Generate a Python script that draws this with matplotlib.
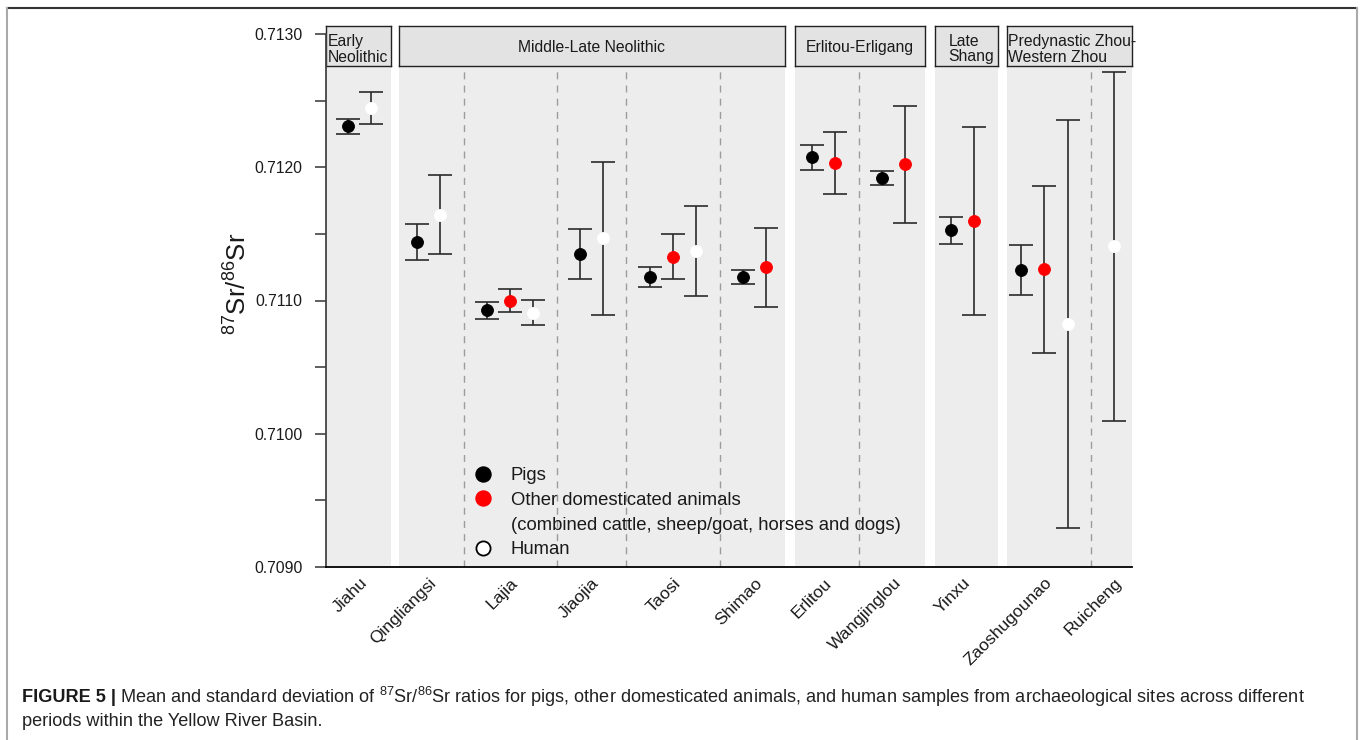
import matplotlib
matplotlib.use('Agg')
import matplotlib.pyplot as plt
from matplotlib.lines import Line2D
import numpy as np

plt.rcParams['font.family'] = ['Liberation Sans', 'DejaVu Sans']
plt.rcParams['mathtext.fontset'] = 'custom'
plt.rcParams['mathtext.rm'] = 'Liberation Sans'
plt.rcParams['mathtext.it'] = 'Liberation Sans:italic'
plt.rcParams['mathtext.bf'] = 'Liberation Sans:bold'

# ---------------- data ----------------
periods = ['Early\nNeolithic', 'Middle-Late Neolithic', 'Erlitou-Erligang',
           'Late\nShang', 'Predynastic Zhou-\nWestern Zhou']
sites = ['Jiahu', 'Qingliangsi', 'Lajia', 'Jiaojia', 'Taosi', 'Shimao',
         'Erlitou', 'Wangjinglou', 'Yinxu', 'Zaoshugounao', 'Ruicheng']
site_period = [0, 1, 1, 1, 1, 1, 2, 2, 3, 4, 4]

pig_mean = [0.712307, 0.711439, 0.710926, 0.711349, 0.711175, 0.711178,
            0.712074, 0.711921, 0.711526, 0.711228, None]
pig_sd = [0.000055, 0.000133, 0.000065, 0.000190, 0.000076, 0.000054,
          0.000095, 0.000054, 0.000104, 0.000189, None]
other_mean = [None, None, 0.710999, None, 0.711328, 0.711249,
              0.712032, 0.712021, 0.711597, 0.711233, None]
other_sd = [None, None, 0.000088, None, 0.000169, 0.000298,
            0.000233, 0.000442, 0.000706, 0.000627, None]
human_mean = [0.712446, 0.711645, 0.710908, 0.711466, 0.711370, None,
              None, None, None, 0.710823, 0.711407]
human_sd = [0.000119, 0.000296, 0.000094, 0.000572, 0.000339, None,
            None, None, None, 0.001528, 0.001309]

series_names = ['Pigs', 'Other domesticated animals', 'Human']
series_means = [pig_mean, other_mean, human_mean]
series_sds = [pig_sd, other_sd, human_sd]
series_face = ['black', '#ff0000', 'white']
series_edge = ['black', '#ff0000', 'white']

y_ticks = [0.7090, 0.7100, 0.7110, 0.7120, 0.7130]

# ---------------- layout ----------------
W, H = 1363, 740
fig = plt.figure(figsize=(W / 100, H / 100), dpi=100)
fig.patch.set_facecolor('white')


def axes_px(l, t, r, b, **kw):
    return fig.add_axes([l / W, 1 - b / H, (r - l) / W, (b - t) / H], **kw)


panel_px = [(326, 391), (399, 785), (795, 925), (935, 998), (1007, 1132)]
first_px = [348, 417, 812, 951, 1021]
unit_px = 23.27
top_px, bot_px, head_top = 67, 567, 26
px_per_unit_y = 133250.0
y0 = 0.7090
panel_ytop = y0 + (bot_px - top_px) / px_per_unit_y

for p, pname in enumerate(periods):
    L, R = panel_px[p]
    x_left = 1 - (first_px[p] - L) / unit_px
    x_right = x_left + (R - L) / unit_px
    ax = axes_px(L, top_px, R, bot_px)
    ax.set_facecolor('#ededed')
    for s in ax.spines.values():
        s.set_visible(False)
    ax.set_xlim(x_left, x_right)
    ax.set_ylim(y0, panel_ytop)
    ax.set_yticks([])

    idx = [i for i, sp in enumerate(site_period) if sp == p]
    pos = 1
    centers, bounds = [], []
    prev_last = None
    for i in idx:
        xs = []
        for k in range(3):
            m = series_means[k][i]
            if m is None:
                continue
            xs.append(pos)
            ax.errorbar([pos], [m], yerr=[series_sds[k][i]], fmt='none',
                        ecolor='#2b2b2b', elinewidth=1.2, capsize=8.3,
                        capthick=1.2, zorder=2)
            ax.plot([pos], [m], 'o', ms=8.6, mfc=series_face[k],
                    mec=series_edge[k], mew=0.6, zorder=3)
            pos += 1
        if prev_last is not None:
            bounds.append((prev_last + xs[0]) / 2)
        prev_last = xs[-1]
        centers.append(np.mean(xs))
        pos += 1
    for b in bounds:
        ax.axvline(b, color='#9c9c9c', lw=1.0, ls=(0, (5, 4.5)), zorder=1)
    ax.set_xticks(centers)
    ax.set_xticklabels([sites[i] for i in idx], rotation=45, ha='right',
                       va='top', rotation_mode='anchor', fontsize=12.5,
                       color='#1a1a1a')
    ax.tick_params(axis='x', length=0, pad=6)

    # strip header
    hx = axes_px(L, head_top, R, top_px - 1)
    hx.set_facecolor('#e3e3e3')
    for s in hx.spines.values():
        s.set_color('#222222')
        s.set_linewidth(1.0)
    hx.set_xticks([])
    hx.set_yticks([])
    if p in (0, 4):
        hx.text(0.03 if p == 0 else 0.005, 0.42, pname, ha='left', va='center',
                fontsize=11.3, linespacing=1.05, color='#1a1a1a',
                transform=hx.transAxes, clip_on=False)
    elif p == 3:
        hx.text(0.58, 0.42, pname, ha='center', va='center', multialignment='left',
                fontsize=11.3, linespacing=1.05, color='#1a1a1a',
                transform=hx.transAxes)
    else:
        hx.text(0.5, 0.47, pname, ha='center', va='center', fontsize=11.3,
                color='#1a1a1a', transform=hx.transAxes)

# frame axes carrying the y scale
fr = axes_px(326, 34, 1132, bot_px)
fr.patch.set_alpha(0)
fr.set_ylim(y0, 0.7130)
fr.set_xlim(0, 1)
fr.set_xticks([])
fr.set_yticks(y_ticks)
fr.set_yticklabels(['%.4f' % v for v in y_ticks], fontsize=11.3, color='#1a1a1a')
fr.set_yticks(np.arange(0.70950, 0.71300, 0.0010), minor=True)
fr.tick_params(axis='y', which='both', length=8, width=1.1, color='#333333', pad=9)
for k in ('top', 'right'):
    fr.spines[k].set_visible(False)
fr.spines['left'].set_color('#444444')
fr.spines['left'].set_linewidth(1.3)
fr.spines['bottom'].set_color('black')
fr.spines['bottom'].set_linewidth(1.3)

fig.text(238 / W, 1 - 284 / H, r'$^{87}$Sr/$^{86}$Sr', rotation=90,
         ha='center', va='center', fontsize=18.5, color='#1a1a1a')

# legend
handles = [
    Line2D([], [], ls='none', marker='o', ms=10.8, mfc='black', mec='black'),
    Line2D([], [], ls='none', marker='o', ms=10.8, mfc='#ff0000', mec='#ff0000'),
    Line2D([], [], ls='none', marker=None),
    Line2D([], [], ls='none', marker='o', ms=10.2, mfc='white', mec='black', mew=1.3),
]
labels = ['Pigs', 'Other domesticated animals',
          '(combined cattle, sheep/goat, horses and dogs)', 'Human']
fig.legend(handles, labels, loc='upper left', bbox_to_anchor=(474 / W, 1 - 467 / H),
           frameon=False, fontsize=13.3, handlelength=1.0, handletextpad=1.0,
           labelspacing=0.42, borderpad=0, borderaxespad=0, labelcolor='#1a1a1a')

# caption
t1 = fig.text(22 / W, 1 - 697 / H, 'FIGURE 5 |', fontweight='bold', fontsize=13.1,
              va='center', ha='left', color='#1a1a1a')
fig.canvas.draw()
ext = t1.get_window_extent(fig.canvas.get_renderer())
fig.text((ext.x1 + 4) / W, 1 - 697 / H,
         r'Mean and standard deviation of $^{87}$Sr/$^{86}$Sr ratios for pigs, other '
         r'domesticated animals, and human samples from archaeological sites across different',
         fontsize=13.1, va='center', ha='left', color='#222222')
fig.text(22 / W, 1 - 721 / H, 'periods within the Yellow River Basin.',
         fontsize=13.1, va='center', ha='left', color='#222222')

# page frame
fig.add_artist(Line2D([7 / W, 1357 / W], [1 - 8 / H, 1 - 8 / H], color='#333333',
                      lw=1.5, transform=fig.transFigure))
fig.add_artist(Line2D([7 / W, 7 / W], [0, 1 - 8 / H], color='#aaaaaa',
                      lw=1.5, transform=fig.transFigure))
fig.add_artist(Line2D([1357 / W, 1357 / W], [0, 1 - 8 / H], color='#aaaaaa',
                      lw=1.5, transform=fig.transFigure))

fig.savefig('out.png', dpi=100)
